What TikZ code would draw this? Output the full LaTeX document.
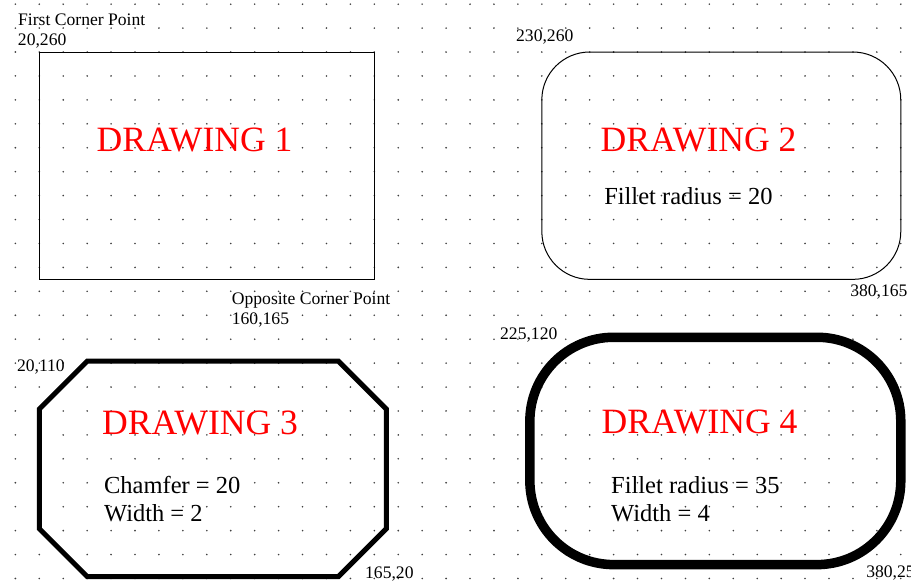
\documentclass[tikz,border=0pt]{standalone}
\usepackage{fontspec}
\setmainfont{Liberation Serif}

\begin{document}
\begin{tikzpicture}[x=2.393pt,y=2.393pt]
\tikzstyle{corner} = [font=\fontsize{17.6}{19}\selectfont, inner sep=0pt, anchor=base west]
\tikzstyle{title} = [text=red, font=\fontsize{35.6}{40}\selectfont, inner sep=0pt, anchor=base]
\tikzstyle{note} = [font=\fontsize{24.5}{28}\selectfont, inner sep=0pt, anchor=base west]
\tikzstyle{dot} = [fill=black!75]
\tikzstyle{thin_line} = [draw, line width=1pt]
\useasboundingbox (3.577,38.95) rectangle (384.27,281.74);

% grid of dots
\foreach \gx in {10,20,...,380}
  \foreach \gy in {40,50,...,280}
    \fill[dot] (\gx,\gy) circle (0.9pt);

% drawing 1
\path[thin_line] (20,260) rectangle (160,165);
\node [corner] (first_corner) at (11.1,270.9) {First Corner Point};
\node [corner] (first_xy) at (11.0,262.9) {20,260};
\node [corner] (opp_corner) at (100.4,154.3) {Opposite Corner Point};
\node [corner] (opp_xy) at (100.4,146.0) {160,165};
\node [title] (drawing_1) at (84.9,218.6) {DRAWING 1};

% drawing 2
\path[thin_line, rounded corners=47.86pt] (230,260) rectangle (380,165);
\node [corner] (fillet_top) at (219.2,264.3) {230,260};
\node [corner] (fillet_bottom) at (358.8,157.7) {380,165};
\node [title] (drawing_2) at (295.5,218.6) {DRAWING 2};
\node [note] (fillet_20) at (256.0,196.3) {Fillet radius = 20};

% lower drawings
\begin{scope}[shift={(0,20.8)}]
% drawing 3
\draw[line width=5pt] (40,110) -- (145,110) -- (165,90) -- (165,40) -- (145,20)
  -- (40,20) -- (20,40) -- (20,90) -- cycle;
% drawing 4
\draw[line width=9.5pt, rounded corners=83.76pt] (225,120) rectangle (380,25);
\end{scope}

\node [corner] (chamfer_top) at (10.6,126.4) {20,110};
\node [corner] (chamfer_bottom) at (156.1,39.9) {165,20};
\node [title] (drawing_3) at (87.2,100.2) {DRAWING 3};
\node [note] (chamfer_20) at (47.0,75.6) {Chamfer = 20};
\node [note] (width_2) at (47.0,63.9) {Width = 2};

\node [corner] (fillet_top_b) at (212.5,140.0) {225,120};
\node [corner] (fillet_bottom_b) at (365.5,40.6) {380,25};
\node [title] (drawing_4) at (295.9,100.5) {DRAWING 4};
\node [note] (fillet_35) at (258.9,75.6) {Fillet radius = 35};
\node [note] (width_4) at (258.9,63.9) {Width = 4};

\end{tikzpicture}
\end{document}
